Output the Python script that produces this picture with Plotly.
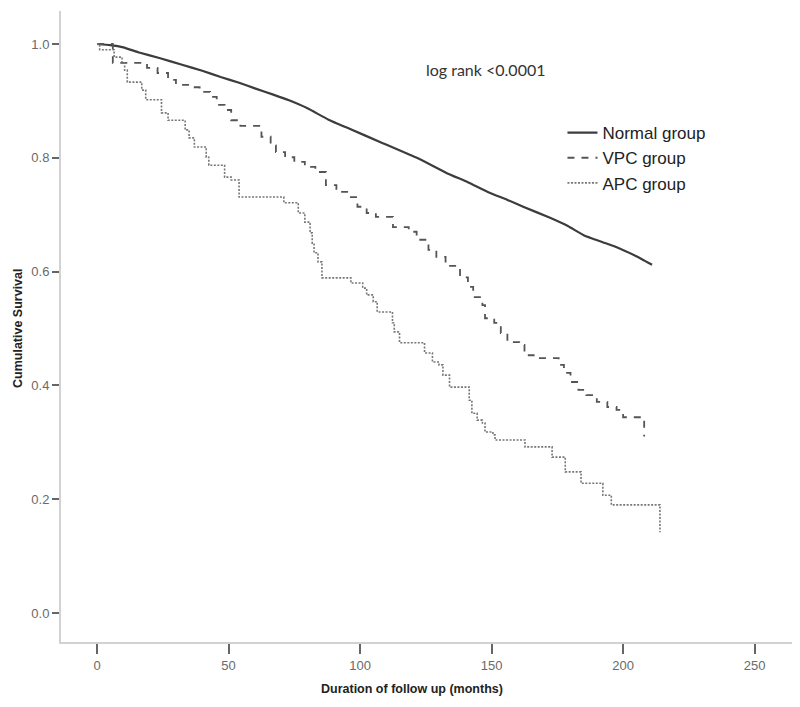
import plotly.graph_objects as go

# ---- data ----
normal_t = [0, 5, 10, 16, 24, 32, 40, 47, 54, 60, 67, 73, 80, 88, 96, 108, 122, 133, 141, 149, 156, 162, 172, 179, 185, 192, 198, 205, 211]
normal_s = [1.0, 0.998, 0.994, 0.985, 0.975, 0.964, 0.953, 0.942, 0.932, 0.922, 0.911, 0.901, 0.887, 0.867, 0.851, 0.827, 0.799, 0.773, 0.757, 0.739, 0.726, 0.714, 0.695, 0.680, 0.664, 0.652, 0.642, 0.627, 0.612]

vpc_t = [0, 6, 19, 23, 27, 30, 35, 39, 43, 45.5, 48.5, 51, 54.5, 62.5, 66, 68, 71.5, 75, 79, 83, 87, 91, 95.5, 99,
         102.5, 106, 112.5, 118.5, 121.5, 126, 129, 132.5, 138, 141, 143, 146.5, 147.5, 151, 153.5, 156, 160.5, 162.5,
         166, 175.5, 177.5, 180, 183, 186, 190, 194, 197.5, 200, 208]
vpc_s = [1.0, 0.967, 0.958, 0.949, 0.937, 0.928, 0.924, 0.916, 0.907, 0.893, 0.884, 0.866, 0.856, 0.837, 0.822, 0.810,
         0.801, 0.793, 0.784, 0.775, 0.752, 0.740, 0.731, 0.714, 0.703, 0.696, 0.678, 0.670, 0.656, 0.638, 0.626, 0.610,
         0.590, 0.573, 0.555, 0.541, 0.518, 0.510, 0.492, 0.476, 0.471, 0.453, 0.448, 0.436, 0.422, 0.406, 0.392, 0.383,
         0.371, 0.362, 0.357, 0.344, 0.310]

apc_t = [0, 1, 6.5, 9.5, 10.5, 11.5, 17, 18.5, 24.5, 27, 33.5, 35, 37, 41.5, 42.5, 48.5, 51, 54, 71, 76.5, 79, 81,
         81.8, 82.5, 84, 85.5, 96.5, 101, 102.5, 105, 106.5, 112.3, 113, 115, 124.5, 127.5, 130, 131.5, 134, 141.5,
         142.5, 144.5, 146.5, 147.5, 150.5, 151.3, 162.7, 173, 178, 184, 192.3, 195.5, 214]
apc_s = [1.0, 0.99, 0.977, 0.967, 0.954, 0.933, 0.919, 0.902, 0.879, 0.866, 0.849, 0.835, 0.819, 0.801, 0.787, 0.766,
         0.761, 0.731, 0.721, 0.703, 0.687, 0.668, 0.650, 0.633, 0.617, 0.589, 0.580, 0.571, 0.559, 0.547, 0.529, 0.510,
         0.494, 0.475, 0.457, 0.441, 0.436, 0.418, 0.397, 0.374, 0.351, 0.339, 0.334, 0.318, 0.313, 0.304, 0.292, 0.274,
         0.248, 0.228, 0.207, 0.190, 0.142]

x_ticks = [0, 50, 100, 150, 200, 250]
y_ticks = [0.0, 0.2, 0.4, 0.6, 0.8, 1.0]
series_names = ["Normal group", "VPC group", "APC group"]

fig = go.Figure()
fig.add_trace(go.Scatter(x=normal_t, y=normal_s, mode="lines", name=series_names[0], legendgroup="a",
                         line=dict(color="#3c3c3c", width=2.2, shape="spline", smoothing=0.3)))
fig.add_trace(go.Scatter(x=vpc_t, y=vpc_s, mode="lines", name=series_names[1], legendgroup="b",
                         line=dict(color="#555555", width=1.8, dash="7px,7px", shape="hv")))
fig.add_trace(go.Scatter(x=apc_t, y=apc_s, mode="lines", name=series_names[2], legendgroup="c",
                         line=dict(color="#777777", width=1.6, dash="2px,1.5px", shape="hv")))

axis_common = dict(showgrid=False, zeroline=False, showline=True, linecolor="#d2d2d2", linewidth=2,
                   ticks="outside", tickcolor="#666666", tickwidth=1.5,
                   tickfont=dict(family="Liberation Sans, Arial, sans-serif", size=13, color="#6a6a6a"))

fig.update_xaxes(range=[-13.7, 264.2], tickvals=x_ticks, ticklen=10, **axis_common)
fig.update_yaxes(range=[-0.051, 1.058], tickvals=y_ticks, tickformat=".1f", ticklen=7, **axis_common)

# page has an 8px body offset; plot area lands at x 61..792, y 11..642 on the page
fig.update_layout(
    width=800, height=707,
    margin=dict(l=53, r=16, t=3, b=73),
    paper_bgcolor="white", plot_bgcolor="white",
    showlegend=True,
    legend=dict(x=0.686, y=0.835, xanchor="left", yanchor="top", bgcolor="rgba(0,0,0,0)",
                font=dict(family="Liberation Sans, Arial, sans-serif", size=17, color="#222222"),
                tracegroupgap=0, itemwidth=30),
    annotations=[
        dict(text="log rank <0.0001", x=(485 - 61) / 731, y=(642 - 58) / 631, xref="paper", yref="paper",
             showarrow=False, font=dict(family="Lato, Open Sans, sans-serif", size=16, color="#333333")),
        dict(text="<b>Duration of follow up (months)</b>", x=(412 - 61) / 731, y=(642 - 689) / 631,
             xref="paper", yref="paper", showarrow=False, yanchor="middle",
             font=dict(family="Liberation Sans Narrow, Arial Narrow, Liberation Sans, sans-serif", size=12.5, color="#222222")),
        dict(text="<b>Cumulative Survival</b>", x=(18 - 61) / 731, y=(642 - 328) / 631, textangle=-90,
             xref="paper", yref="paper", showarrow=False, xanchor="center",
             font=dict(family="Liberation Sans Narrow, Arial Narrow, Liberation Sans, sans-serif", size=12.5, color="#222222")),
    ],
)

fig.write_html("out.html")
